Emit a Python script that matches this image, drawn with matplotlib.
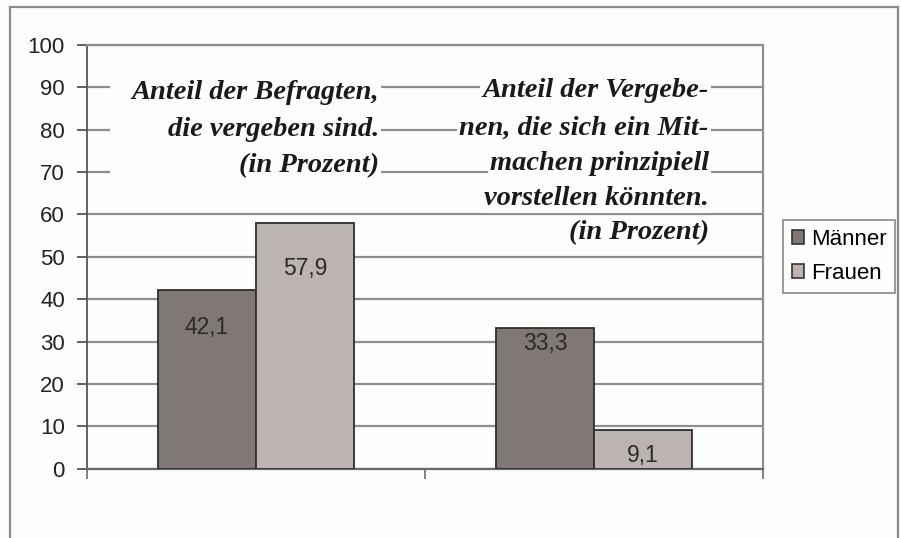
import matplotlib.pyplot as plt
import numpy as np
from matplotlib.patches import Rectangle

# data
categories = ['', '']
series_names = ['Männer', 'Frauen']
maenner = [42.1, 33.3]
frauen = [57.9, 9.1]
value_labels = [['42,1', '33,3'], ['57,9', '9,1']]

box1_lines = ['Anteil der Befragten,', 'die vergeben sind.', '(in Prozent)']
box2_lines = ['Anteil der Vergebe-', 'nen, die sich ein Mit-',
              'machen prinzipiell', 'vorstellen könnten.', '(in Prozent)']

# style
col_m = '#807874'
col_f = '#bbb4b1'
grid_col = '#8e8e8e'
bg = '#fdfdfb'
label_offsets = [[8.9, 3.7], [10.6, 5.9]]

plt.rcParams['font.family'] = ['Liberation Sans', 'DejaVu Sans']

fig = plt.figure(figsize=(9.01, 5.38), dpi=100, facecolor=bg)
ax = fig.add_axes([0.0966, 0.1288, 0.7503, 0.7881])
ax.set_facecolor(bg)

x = np.arange(len(categories))
w = 0.29
bars_m = ax.bar(x - 0.145, maenner, w, color=col_m, edgecolor='#2e2e2e', linewidth=1.3,
                label=series_names[0], zorder=3)
bars_f = ax.bar(x + 0.145, frauen, w, color=col_f, edgecolor='#2e2e2e', linewidth=1.3,
                label=series_names[1], zorder=3)

for i, (bm, bf) in enumerate(zip(bars_m, bars_f)):
    ax.text(bm.get_x() + w / 2, maenner[i] - label_offsets[0][i], value_labels[0][i],
            ha='center', va='center', fontsize=16.5, color='#2a2a2a', zorder=4)
    ax.text(bf.get_x() + w / 2, frauen[i] - label_offsets[1][i], value_labels[1][i],
            ha='center', va='center', fontsize=16.5, color='#2a2a2a', zorder=4)

ax.set_xlim(-0.5, 1.5)
ax.set_ylim(0, 100)
ax.set_yticks(range(0, 101, 10))
ax.set_xticks([-0.5, 0.5, 1.5])
ax.set_xticklabels([])
ax.yaxis.grid(True, color=grid_col, linewidth=1.6, zorder=1)
ax.set_axisbelow(True)
ax.tick_params(axis='y', length=7, width=1.3, color='#555555', pad=9, labelsize=16,
               labelcolor='#222222')
ax.tick_params(axis='x', length=7, width=1.3, color='#777777')
for s in ['top', 'right', 'bottom']:
    ax.spines[s].set_color(grid_col)
    ax.spines[s].set_linewidth(1.6)
ax.spines['left'].set_color('#555555')
ax.spines['left'].set_linewidth(1.3)
ax.spines['bottom'].set_color('#6a6a6a')

# white panel behind first annotation
ax.add_patch(Rectangle((-0.432, 64.5), 0.72, 28.5, facecolor=bg, edgecolor='none', zorder=2))

serif = dict(family=['Liberation Serif', 'DejaVu Serif'], style='italic', weight='bold',
             fontsize=20.5, color='#1a1a1a', zorder=5)
box = dict(facecolor=bg, edgecolor='none', pad=1.5)
y1 = [88.8, 80.0, 71.4]
for t, yy in zip(box1_lines, y1):
    ax.text(0.365, yy, t, ha='right', va='center', bbox=box, **serif)
y2 = [89.2, 80.3, 72.0, 63.8, 55.8]
for t, yy in zip(box2_lines, y2):
    ax.text(1.339, yy, t, ha='right', va='center', bbox=box, **serif)

leg = ax.legend(loc='upper left', bbox_to_anchor=(1.0296, 0.587), fontsize=16,
                frameon=True, fancybox=False, edgecolor='#777777', handlelength=0.55,
                handleheight=0.55, handletextpad=0.3, borderpad=0.4, labelspacing=0.6,
                borderaxespad=0)
leg.get_frame().set_linewidth(1.3)
leg._legend_box.sep = 0
for h in leg.legend_handles:
    h.set_edgecolor('#333333')
    h.set_linewidth(1.2)
leg.set_bbox_to_anchor((1.0296, 0.587))
leg.borderpad = 0.3

# outer chart frame
fig.add_artist(Rectangle((10 / 901, -0.05), 888 / 901, 0.037 + 1.0, transform=fig.transFigure,
                         fill=False, edgecolor='#8a8a8a', linewidth=1.6))

fig.savefig('out.png', dpi=100, facecolor=bg)
